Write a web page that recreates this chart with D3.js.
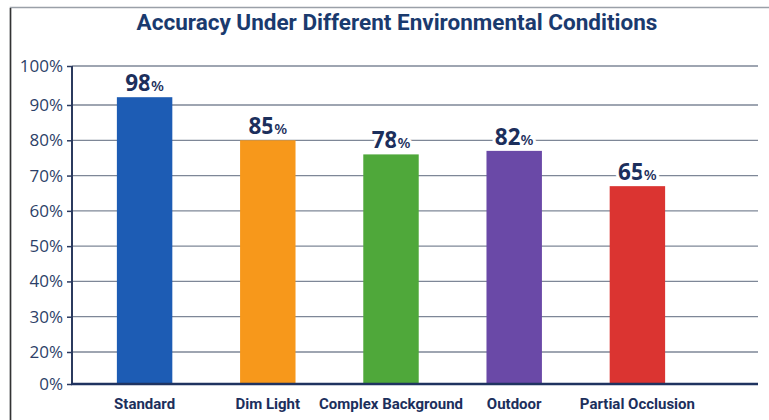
<!DOCTYPE html>
<html>
<head>
<meta charset="utf-8">
<script src="https://cdn.jsdelivr.net/npm/d3@7"></script>
<style>
  body { margin: 0; background: #fff; }
  svg { display: block; }
</style>
</head>
<body>
<script>
var w = 769;
var h = 420;

// data
var categories = ["Standard", "Dim Light", "Complex Background", "Outdoor", "Partial Occlusion"];
var barValues = [92, 80, 76, 77, 67];      // bar heights as measured against the axis
var labelValues = [98, 85, 78, 82, 65];    // numbers printed above the bars
var colors = ["#1d5cb4", "#f7981b", "#4fa83a", "#6a49a7", "#db3431"];
var tickValues = [0, 20, 30, 40, 50, 60, 70, 80, 90, 100];

var navy = "#1c2f5c";
var condensed = "Roboto, sans-serif";

var svg = d3.select("body")
            .append("svg")
            .attr("width", w)
            .attr("height", h);

// frame
svg.append("path")
    .attr("d", "M10.5," + (h + 2) + "V7.5H" + (w + 2))
    .attr("fill", "none")
    .attr("stroke", "#9aa0a8")
    .attr("stroke-width", 1.5);
svg.append("line")
    .attr("x1", 10.5).attr("x2", 10.5)
    .attr("y1", 8).attr("y2", h)
    .attr("stroke", "#333")
    .attr("stroke-width", 1.5);

// the printed axis is not evenly spaced, so the scale is piecewise
var y = d3.scaleLinear()
    .domain([0, 20, 90, 100])
    .range([384, 352, 105, 66]);

var x = d3.scaleBand()
    .domain(categories)
    .range([83, 699])
    .paddingInner(0.55)
    .paddingOuter(0.275);

var left = 72, right = 758;

svg.append("text")
    .text("Accuracy Under Different Environmental Conditions")
    .attr("x", 397)
    .attr("y", 30)
    .attr("text-anchor", "middle")
    .attr("font-family", condensed)
    .attr("font-weight", "bold")
    .attr("font-size", "22.5px")
    .attr("fill", "#1a3a6e");

// gridlines
svg.append("g")
    .selectAll("line")
    .data(tickValues.filter(function(d){ return d > 0; }))
    .enter()
    .append("line")
    .attr("x1", left)
    .attr("x2", right)
    .attr("y1", function(d){ return y(d); })
    .attr("y2", function(d){ return y(d); })
    .attr("stroke", "#7e8797")
    .attr("stroke-width", 1.3);

// y axis
var yAxis = svg.append("g")
    .attr("transform", "translate(" + left + ",0)")
    .call(d3.axisLeft(y)
        .tickValues(tickValues)
        .tickSize(5)
        .tickPadding(4)
        .tickFormat(function(d){ return d + "%"; }));
yAxis.select(".domain")
    .attr("d", "M0," + y(100) + "V" + y(0))
    .attr("stroke", "#2b3a5e")
    .attr("stroke-width", 2);
yAxis.selectAll(".tick line")
    .attr("stroke", "#2b3a5e")
    .attr("stroke-width", 1.5);
yAxis.selectAll(".tick text")
    .attr("font-family", "'Open Sans', sans-serif")
    .attr("font-size", "17px")
    .attr("fill", "#2d3f68");

// bars
svg.selectAll("rect.bar")
    .data(barValues)
    .enter()
    .append("rect")
    .attr("class", "bar")
    .attr("x", function(d, i){ return x(categories[i]); })
    .attr("y", function(d){ return y(d); })
    .attr("width", x.bandwidth())
    .attr("height", function(d){ return y(0) - y(d); })
    .attr("fill", function(d, i){ return colors[i]; });

// baseline
svg.append("line")
    .attr("x1", left - 1)
    .attr("x2", right)
    .attr("y1", y(0))
    .attr("y2", y(0))
    .attr("stroke", "#1f3360")
    .attr("stroke-width", 2.5);

// value labels
var labels = svg.selectAll("text.value")
    .data(barValues)
    .enter()
    .append("text")
    .attr("class", "value")
    .attr("x", function(d, i){ return x(categories[i]) + x.bandwidth() / 2; })
    .attr("y", function(d){ return y(d) - 6; })
    .attr("text-anchor", "middle")
    .attr("font-family", "'Open Sans', sans-serif")
    .attr("fill", navy)
    .attr("stroke", "#fff")
    .attr("stroke-width", 6)
    .attr("paint-order", "stroke");
labels.append("tspan")
    .attr("font-size", "22.5px")
    .attr("font-weight", "bold")
    .text(function(d, i){ return labelValues[i]; });
labels.append("tspan")
    .attr("font-size", "15px")
    .attr("font-weight", "600")
    .text("%");

// category labels
svg.selectAll("text.cat")
    .data(categories)
    .enter()
    .append("text")
    .attr("class", "cat")
    .text(function(d){ return d; })
    .attr("x", function(d){ return x(d) + x.bandwidth() / 2; })
    .attr("y", 409)
    .attr("text-anchor", "middle")
    .attr("font-family", condensed)
    .attr("font-weight", "bold")
    .attr("font-size", "15px")
    .attr("fill", navy);
</script>
</body>
</html>
